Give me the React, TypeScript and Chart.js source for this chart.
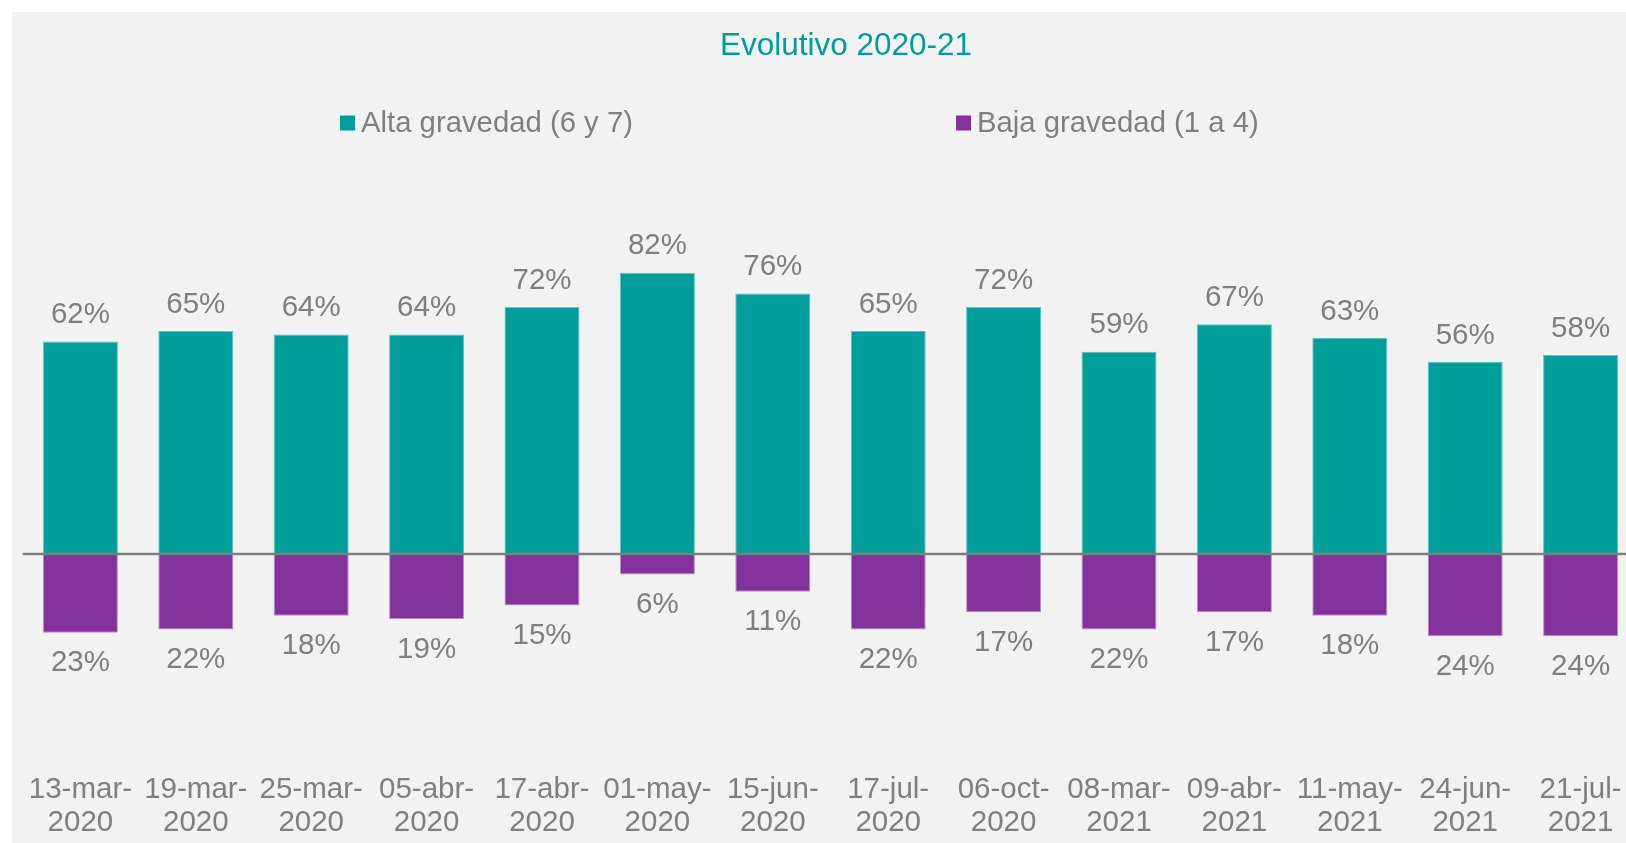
import React, { useEffect, useRef } from "react";
import { Chart, registerables } from "chart.js";

Chart.register(...registerables);

const categories = [
  "13-mar-2020", "19-mar-2020", "25-mar-2020", "05-abr-2020", "17-abr-2020",
  "01-may-2020", "15-jun-2020", "17-jul-2020", "06-oct-2020", "08-mar-2021",
  "09-abr-2021", "11-may-2021", "24-jun-2021", "21-jul-2021",
];
const altaGravedad = [62, 65, 64, 64, 72, 82, 76, 65, 72, 59, 67, 63, 56, 58];
const bajaGravedad = [23, 22, 18, 19, 15, 6, 11, 22, 17, 22, 17, 18, 24, 24];
const seriesNames = ["Alta gravedad (6 y 7)", "Baja gravedad (1 a 4)"];
const titleText = "Evolutivo 2020-21";

const TEAL = "#009E9A";
const PURPLE = "#84329B";
const GRAY = "#7F7F7F";
const FONT = "'Liberation Sans', Arial, sans-serif";

const W = 1668;
const H = 831;

const splitLabel = (s: string) => {
  const i = s.lastIndexOf("-");
  return [s.slice(0, i + 1), s.slice(i + 1)];
};

const zeroLinePlugin = {
  id: "zeroLine",
  afterDatasetsDraw(chart: any) {
    const { ctx, chartArea, scales } = chart;
    const y = scales.y.getPixelForValue(0);
    ctx.save();
    ctx.strokeStyle = GRAY;
    ctx.lineWidth = 2.5;
    ctx.beginPath();
    ctx.moveTo(chartArea.left, y);
    ctx.lineTo(chartArea.right, y);
    ctx.stroke();
    ctx.restore();
  },
};

const dataLabelPlugin = {
  id: "dataLabels",
  afterDatasetsDraw(chart: any) {
    const { ctx } = chart;
    ctx.save();
    ctx.font = `29.5px ${FONT}`;
    ctx.fillStyle = GRAY;
    ctx.textAlign = "center";
    ctx.textBaseline = "alphabetic";
    chart.data.datasets.forEach((ds: any, di: number) => {
      const meta = chart.getDatasetMeta(di);
      meta.data.forEach((el: any, i: number) => {
        const v = ds.data[i];
        const y = v >= 0 ? el.y - 18.4 : el.y + 38.6;
        ctx.fillText(`${Math.abs(v)}%`, el.x, y);
      });
    });
    ctx.restore();
  },
};

const legendX = [328, 944];
const headerPlugin = {
  id: "header",
  afterDraw(chart: any) {
    const { ctx } = chart;
    ctx.save();
    // title
    ctx.font = `31.5px ${FONT}`;
    ctx.fillStyle = TEAL;
    ctx.textAlign = "center";
    ctx.textBaseline = "alphabetic";
    ctx.fillText(titleText, W / 2, 43);
    // legend
    const y = 111;
    ctx.font = `29.3px ${FONT}`;
    ctx.textBaseline = "middle";
    ctx.textAlign = "left";
    chart.data.datasets.forEach((ds: any, i: number) => {
      const x = legendX[i];
      ctx.fillStyle = ds.backgroundColor;
      ctx.fillRect(x, y - 7.5, 15, 15);
      ctx.fillStyle = GRAY;
      ctx.fillText(ds.label, x + 21, y + 1);
    });
    ctx.restore();
  },
};

export default function App() {
  const ref = useRef<HTMLCanvasElement | null>(null);

  useEffect(() => {
    if (!ref.current) return;
    const chart = new Chart(ref.current, {
      type: "bar",
      data: {
        labels: categories.map(splitLabel),
        datasets: [
          {
            label: seriesNames[0],
            data: altaGravedad,
            backgroundColor: TEAL,
            borderColor: "#5EC3C0",
            borderWidth: 1,
            barPercentage: 0.65,
            categoryPercentage: 1,
          },
          {
            label: seriesNames[1],
            data: bajaGravedad.map((v) => -v),
            backgroundColor: PURPLE,
            borderColor: "#B98FC6",
            borderWidth: 1,
            barPercentage: 0.65,
            categoryPercentage: 1,
          },
        ],
      },
      options: {
        responsive: false,
        animation: false,
        devicePixelRatio: 1,
        layout: { padding: { left: 10.7, right: 41.7, top: 148, bottom: 0 } },
        plugins: {
          legend: { display: false },
          tooltip: { enabled: false },
          title: { display: false },
        },
        scales: {
          x: {
            stacked: true,
            offset: true,
            grid: { display: false, drawTicks: false },
            border: { display: false },
            afterFit: (scale: any) => {
              scale.height = 72;
            },
            ticks: {
              color: GRAY,
              font: { family: FONT, size: 29.5, lineHeight: 1.095 },
              padding: 3,
              maxRotation: 0,
              minRotation: 0,
              autoSkip: false,
            },
          },
          y: {
            stacked: true,
            display: false,
            min: -63.3,
            max: 114.9,
          },
        },
      },
      plugins: [zeroLinePlugin, dataLabelPlugin, headerPlugin],
    });
    return () => chart.destroy();
  }, []);

  return (
    <div
      style={{
        position: "fixed",
        left: 12,
        top: 12,
        width: 1614,
        height: 831,
        background: "#F2F2F2",
        overflow: "hidden",
      }}
    >
      <canvas ref={ref} width={W} height={H} style={{ width: W, height: H, display: "block" }} />
    </div>
  );
}
